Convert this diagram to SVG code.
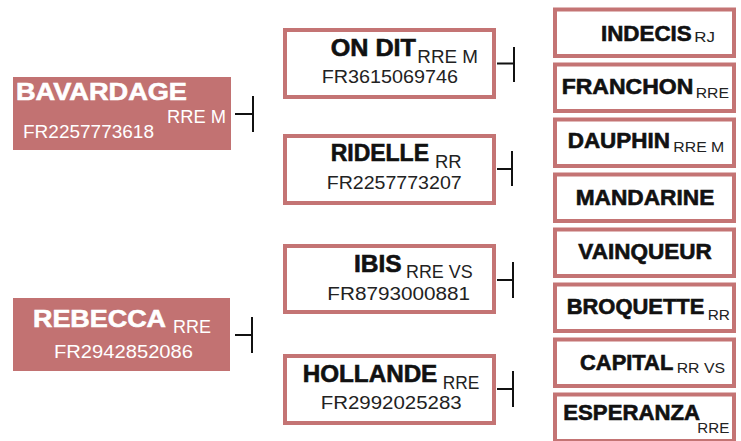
<svg xmlns="http://www.w3.org/2000/svg" width="741" height="441" viewBox="0 0 741 441">
<style>
  .fill { fill: #c27272; }
  .box { fill: #ffffff; stroke: #c47474; stroke-width: 4; }
  .conn { stroke: #111111; stroke-width: 2; fill: none; }
  text { font-family: "Liberation Sans", Arial, sans-serif; }
  .name { font-weight: bold; font-size: 24px; fill: #111111; stroke: #111111; stroke-width: 0.6; }
  .nameR { font-weight: bold; font-size: 21.5px; fill: #111111; stroke: #111111; stroke-width: 0.6; }
  .sub { font-size: 17.5px; fill: #222222; }
  .subR { font-size: 15.5px; fill: #222222; }
  .num { font-size: 18px; fill: #222222; }
  .w { fill: #ffffff; }
  .name.w { stroke: #ffffff; }
</style>
<rect width="741" height="441" fill="#ffffff"/>

<g id="connectors">
  <path class="conn" d="M235 114 H253 M253 96 V132"/>
  <path class="conn" d="M235 335 H252 M252 317 V353"/>
  <path class="conn" d="M497 63.5 H514 M514 47 V82"/>
  <path class="conn" d="M497 169 H512 M512 151 V186"/>
  <path class="conn" d="M497 280 H513 M513 262 V298"/>
  <path class="conn" d="M497 389 H513 M513 371 V407"/>
</g>

<g id="bavardage">
  <rect class="fill" x="13" y="77" width="218" height="73"/>
  <text class="name w" x="16" y="100" textLength="171" lengthAdjust="spacingAndGlyphs">BAVARDAGE</text>
  <text class="sub w" x="167" y="123" textLength="59" lengthAdjust="spacingAndGlyphs">RRE M</text>
  <text class="num w" x="23" y="138.3" textLength="131" lengthAdjust="spacingAndGlyphs">FR2257773618</text>
</g>

<g id="rebecca">
  <rect class="fill" x="13" y="298" width="217" height="73"/>
  <text class="name w" x="33" y="326.7" textLength="133" lengthAdjust="spacingAndGlyphs">REBECCA</text>
  <text class="sub w" x="173" y="332.7" textLength="38" lengthAdjust="spacingAndGlyphs">RRE</text>
  <text class="num w" x="54" y="358" textLength="139" lengthAdjust="spacingAndGlyphs">FR2942852086</text>
</g>

<g id="ondit">
  <rect class="box" x="285" y="30" width="209" height="67"/>
  <text class="name" x="330.7" y="56" textLength="85.3" lengthAdjust="spacingAndGlyphs">ON DIT</text>
  <text class="sub" x="417.3" y="63.3" textLength="60.7" lengthAdjust="spacingAndGlyphs">RRE M</text>
  <text class="num" x="321.7" y="83.3" textLength="136.3" lengthAdjust="spacingAndGlyphs">FR3615069746</text>
</g>

<g id="ridelle">
  <rect class="box" x="285" y="136" width="209" height="67"/>
  <text class="name" x="330.7" y="160.7" textLength="98.3" lengthAdjust="spacingAndGlyphs">RIDELLE</text>
  <text class="sub" x="435" y="168.3" textLength="26.7" lengthAdjust="spacingAndGlyphs">RR</text>
  <text class="num" x="326.7" y="189" textLength="135" lengthAdjust="spacingAndGlyphs">FR2257773207</text>
</g>

<g id="ibis">
  <rect class="box" x="285" y="246" width="209" height="66"/>
  <text class="name" x="354" y="271.7" textLength="47.7" lengthAdjust="spacingAndGlyphs">IBIS</text>
  <text class="sub" x="406" y="278.3" textLength="66.7" lengthAdjust="spacingAndGlyphs">RRE VS</text>
  <text class="num" x="327.3" y="300" textLength="142.7" lengthAdjust="spacingAndGlyphs">FR8793000881</text>
</g>

<g id="hollande">
  <rect class="box" x="285" y="356" width="209" height="67"/>
  <text class="name" x="302.7" y="381.7" textLength="134.6" lengthAdjust="spacingAndGlyphs">HOLLANDE</text>
  <text class="sub" x="442.7" y="389.3" textLength="36.6" lengthAdjust="spacingAndGlyphs">RRE</text>
  <text class="num" x="320.7" y="409.3" textLength="141" lengthAdjust="spacingAndGlyphs">FR2992025283</text>
</g>

<g id="indecis">
  <rect class="box" x="555" y="9.5" width="179" height="46.5"/>
  <text class="nameR" x="601" y="40.7" textLength="90.7" lengthAdjust="spacingAndGlyphs">INDECIS</text>
  <text class="subR" x="694.3" y="41.7" textLength="20.7" lengthAdjust="spacingAndGlyphs">RJ</text>
</g>

<g id="franchon">
  <rect class="box" x="555" y="64.5" width="179" height="46.5"/>
  <text class="nameR" x="561.7" y="94.3" textLength="131.6" lengthAdjust="spacingAndGlyphs">FRANCHON</text>
  <text class="subR" x="695.7" y="98.3" textLength="33.3" lengthAdjust="spacingAndGlyphs">RRE</text>
</g>

<g id="dauphin">
  <rect class="box" x="555" y="119.5" width="179" height="46.5"/>
  <text class="nameR" x="567.7" y="148.3" textLength="102.3" lengthAdjust="spacingAndGlyphs">DAUPHIN</text>
  <text class="subR" x="673.3" y="151.7" textLength="51" lengthAdjust="spacingAndGlyphs">RRE M</text>
</g>

<g id="mandarine">
  <rect class="box" x="555" y="174.5" width="179" height="46.5"/>
  <text class="nameR" x="575.7" y="205" textLength="138.6" lengthAdjust="spacingAndGlyphs">MANDARINE</text>
</g>

<g id="vainqueur">
  <rect class="box" x="555" y="229.5" width="179" height="46.5"/>
  <text class="nameR" x="578.3" y="259.3" textLength="133.4" lengthAdjust="spacingAndGlyphs">VAINQUEUR</text>
</g>

<g id="broquette">
  <rect class="box" x="555" y="284.5" width="179" height="46.5"/>
  <text class="nameR" x="566.7" y="314.3" textLength="137.6" lengthAdjust="spacingAndGlyphs">BROQUETTE</text>
  <text class="subR" x="707.7" y="320" textLength="22.3" lengthAdjust="spacingAndGlyphs">RR</text>
</g>

<g id="capital">
  <rect class="box" x="555" y="339.5" width="179" height="46.5"/>
  <text class="nameR" x="580" y="370" textLength="93.3" lengthAdjust="spacingAndGlyphs">CAPITAL</text>
  <text class="subR" x="676.7" y="372.7" textLength="48.3" lengthAdjust="spacingAndGlyphs">RR VS</text>
</g>

<g id="esperanza">
  <rect class="box" x="555" y="394.5" width="179" height="46.5"/>
  <text class="nameR" x="563.3" y="420" textLength="136.7" lengthAdjust="spacingAndGlyphs">ESPERANZA</text>
  <text class="subR" x="697.3" y="433.3" textLength="32" lengthAdjust="spacingAndGlyphs">RRE</text>
</g>
</svg>
